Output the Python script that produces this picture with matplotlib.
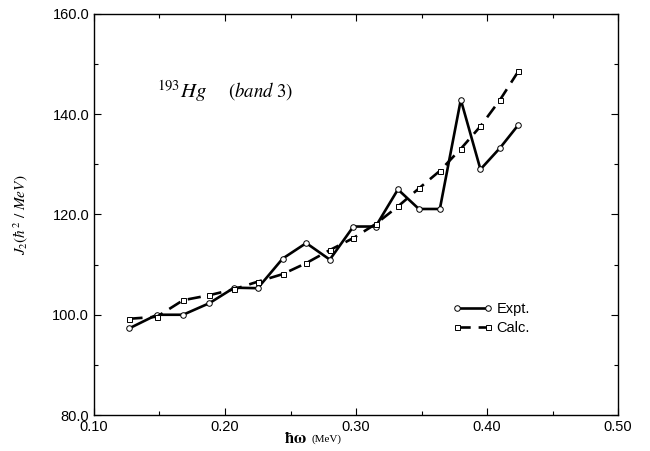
import matplotlib
matplotlib.use("Agg")
import matplotlib.pyplot as plt
from matplotlib.ticker import MultipleLocator, FormatStrFormatter

# ==========================================
# DATA
# ==========================================

omega = [0.127, 0.148, 0.168, 0.188, 0.207, 0.225, 0.244, 0.262, 0.280,
         0.298, 0.315, 0.332, 0.348, 0.364, 0.380, 0.395, 0.410, 0.424]

j2_expt = [97.3, 100.0, 100.0, 102.3, 105.4, 105.3, 111.2, 114.3, 111.0,
           117.6, 117.6, 125.0, 121.1, 121.1, 142.9, 129.0, 133.3, 137.9]

j2_calc = [99.2, 99.6, 102.9, 103.9, 105.1, 106.6, 108.1, 110.3, 112.9,
           115.3, 118.1, 121.6, 125.2, 128.7, 133.1, 137.6, 142.9, 148.6]

# ==========================================
# PLOT
# ==========================================

plt.rcParams["font.family"] = ["Liberation Sans", "DejaVu Sans"]
plt.rcParams["mathtext.fontset"] = "stix"

fig = plt.figure(figsize=(6.5, 4.51), dpi=100)
ax = fig.add_axes([0.1446, 0.0798, 0.8062, 0.8892])

ax.plot(omega, j2_expt, "-", color="black", lw=1.9,
        marker="o", ms=4.0, mfc="white", mec="black", mew=0.7,
        label="Expt.")
ax.plot(omega, j2_calc, "--", color="black", lw=1.9, dashes=(5, 3),
        marker="s", ms=3.6, mfc="white", mec="black", mew=0.7,
        label="Calc.")

ax.set_xlim(0.10, 0.50)
ax.set_ylim(80, 160)

ax.xaxis.set_major_locator(MultipleLocator(0.10))
ax.xaxis.set_minor_locator(MultipleLocator(0.05))
ax.yaxis.set_major_locator(MultipleLocator(20))
ax.yaxis.set_minor_locator(MultipleLocator(10))
ax.xaxis.set_major_formatter(FormatStrFormatter("%.2f"))
ax.yaxis.set_major_formatter(FormatStrFormatter("%.1f"))

ax.tick_params(which="both", direction="in", top=True, right=True,
               labelsize=10.5, width=0.8)
ax.tick_params(which="major", length=5)
ax.tick_params(which="minor", length=3)

for s in ax.spines.values():
    s.set_linewidth(1.0)

ax.text(0.148, 144.6, r"$^{193}Hg$", fontsize=15, ha="left", va="center")
ax.text(0.2025, 144.6, r"$(band\ 3)$", fontsize=13.5, ha="left", va="center")

ax.set_ylabel(r"$J_2(\hbar^2\ /\ MeV)$", fontsize=11, labelpad=16)

fig.text(0.437, 0.012, r"$\mathbf{\hbar\omega}$", fontsize=12, ha="left", va="bottom")
fig.text(0.479, 0.016, "(MeV)", fontsize=8, family="Liberation Serif",
         ha="left", va="bottom")

ax.legend(loc="center left", bbox_to_anchor=(0.66, 0.24), frameon=False,
          numpoints=2, handlelength=2.7, fontsize=10.5, labelspacing=0.35,
          handletextpad=0.3)

fig.savefig("out.png", dpi=100)
